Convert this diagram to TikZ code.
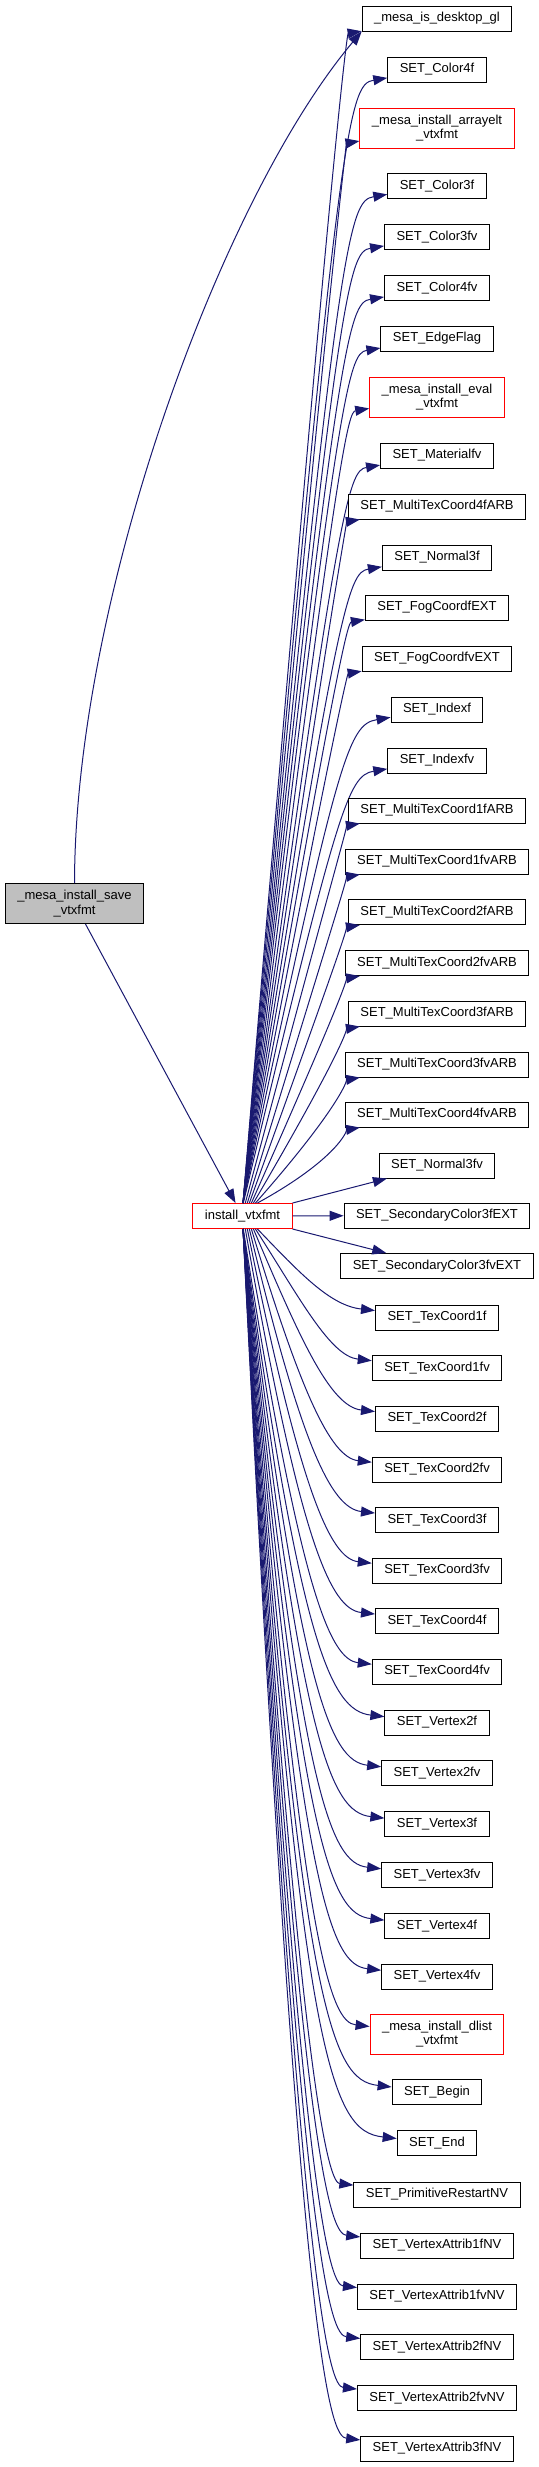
\documentclass[tikz,border=0pt]{standalone}
\usepackage{fontspec}
\setmainfont{Liberation Sans}
\usetikzlibrary{arrows.meta, calc}
\definecolor{cgEdge}{HTML}{191970}
\definecolor{cgRoot}{HTML}{BFBFBF}
\newcommand\cgfont{\fontsize{9.75}{11}\selectfont}

\begin{document}
\begin{tikzpicture}[
    x=0.75pt, y=0.75pt,
    fn/.style={draw=black, line width=0.75pt, fill=white, font=\cgfont, align=center,
               inner xsep=9pt, inner ysep=0pt, minimum height=18.75pt},
    fnmore/.style={fn, draw=red},
    fnmore2/.style={fnmore, minimum height=30pt},
    fnroot/.style={fn, fill=cgRoot, minimum height=30pt},
    call/.style={draw=cgEdge, line width=0.75pt, -{Triangle[length=10.5pt, width=7.5pt]}},
  ]
  \useasboundingbox (0,0) rectangle (539,-2467);

  % caller and the function it calls
  \node[fnroot] (save) at (74.5,-903.5) {\_mesa\_install\_save\\\_vtxfmt};
  \node[fnmore] (inst) at (242.5,-1216) {install\_vtxfmt};
  \draw[call] (save) -- (inst);

  % callees above install_vtxfmt (top at y=1203)
  \foreach \nm/\yy/\sty/\lab in {
      dgl/18.5/fn/{\_mesa\_is\_desktop\_gl},
      c4f/69.5/fn/{SET\_Color4f},
      arrayelt/128/fnmore2/{\_mesa\_install\_arrayelt\\\_vtxfmt},
      c3f/186/fn/{SET\_Color3f},
      c3fv/237/fn/{SET\_Color3fv},
      c4fv/288/fn/{SET\_Color4fv},
      edgeflag/338.5/fn/{SET\_EdgeFlag},
      eval/397/fnmore2/{\_mesa\_install\_eval\\\_vtxfmt},
      matfv/455.5/fn/{SET\_Materialfv},
      mtc4f/506.5/fn/{SET\_MultiTexCoord4fARB},
      n3f/557.5/fn/{SET\_Normal3f},
      fogf/607.5/fn/{SET\_FogCoordfEXT},
      fogfv/658.5/fn/{SET\_FogCoordfvEXT},
      idxf/709.5/fn/{SET\_Indexf},
      idxfv/760.5/fn/{SET\_Indexfv},
      mtc1f/810.5/fn/{SET\_MultiTexCoord1fARB},
      mtc1fv/861.5/fn/{SET\_MultiTexCoord1fvARB},
      mtc2f/912/fn/{SET\_MultiTexCoord2fARB},
      mtc2fv/963/fn/{SET\_MultiTexCoord2fvARB},
      mtc3f/1013.5/fn/{SET\_MultiTexCoord3fARB},
      mtc3fv/1064.5/fn/{SET\_MultiTexCoord3fvARB},
      mtc4fv/1114.5/fn/{SET\_MultiTexCoord4fvARB}} {
    \node[\sty] (\nm) at (437,-\yy) {\lab};
    \pgfmathsetmacro\dy{1203-\yy}
    \pgfmathsetmacro\xo{max(0.5,18.5-\dy/25)}
    \pgfmathsetmacro\hb{min(45,0.5*\dy)}
    \draw[call] ($(inst.north)+(\xo,0)$) .. controls (338,-\yy-\hb) and (348,-\yy-15) .. (\nm);
  }
  \draw[call] (save.north) .. controls (75,-600) and (220,-200) .. (dgl.south west);

  % the three almost level with it
  \node[fn] (n3fv) at (437,-1165.5) {SET\_Normal3fv};
  \node[fn] (sc3f) at (437,-1215.5) {SET\_SecondaryColor3fEXT};
  \node[fn] (sc3fv) at (437,-1266) {SET\_SecondaryColor3fvEXT};
  \draw[call] (inst.north east) -- (n3fv);
  \draw[call] (inst) -- (sc3f);
  \draw[call] (inst.south east) -- (sc3fv);

  % callees below (bottom at y=1229)
  \foreach \nm/\yy/\sty/\lab in {
      tc1f/1317.5/fn/{SET\_TexCoord1f},
      tc1fv/1368/fn/{SET\_TexCoord1fv},
      tc2f/1418.5/fn/{SET\_TexCoord2f},
      tc2fv/1469.5/fn/{SET\_TexCoord2fv},
      tc3f/1520/fn/{SET\_TexCoord3f},
      tc3fv/1570.5/fn/{SET\_TexCoord3fv},
      tc4f/1621/fn/{SET\_TexCoord4f},
      tc4fv/1671.5/fn/{SET\_TexCoord4fv},
      v2f/1722.5/fn/{SET\_Vertex2f},
      v2fv/1773/fn/{SET\_Vertex2fv},
      v3f/1824/fn/{SET\_Vertex3f},
      v3fv/1875/fn/{SET\_Vertex3fv},
      v4f/1926/fn/{SET\_Vertex4f},
      v4fv/1976.5/fn/{SET\_Vertex4fv},
      dlist/2034/fnmore2/{\_mesa\_install\_dlist\\\_vtxfmt},
      sbegin/2092/fn/{SET\_Begin},
      send/2143/fn/{SET\_End},
      primres/2194.5/fn/{SET\_PrimitiveRestartNV},
      va1f/2245.5/fn/{SET\_VertexAttrib1fNV},
      va1fv/2296.5/fn/{SET\_VertexAttrib1fvNV},
      va2f/2347/fn/{SET\_VertexAttrib2fNV},
      va2fv/2398/fn/{SET\_VertexAttrib2fvNV},
      va3f/2448.5/fn/{SET\_VertexAttrib3fNV}} {
    \node[\sty] (\nm) at (437,-\yy) {\lab};
    \pgfmathsetmacro\dy{\yy-1229}
    \pgfmathsetmacro\xo{max(0.5,18.5-\dy/25)}
    \pgfmathsetmacro\hb{min(80,0.5*\dy)}
    \draw[call] ($(inst.south)+(\xo,0)$) .. controls (300,-\yy+\hb) and (330,-\yy+12) .. (\nm);
  }
\end{tikzpicture}
\end{document}
